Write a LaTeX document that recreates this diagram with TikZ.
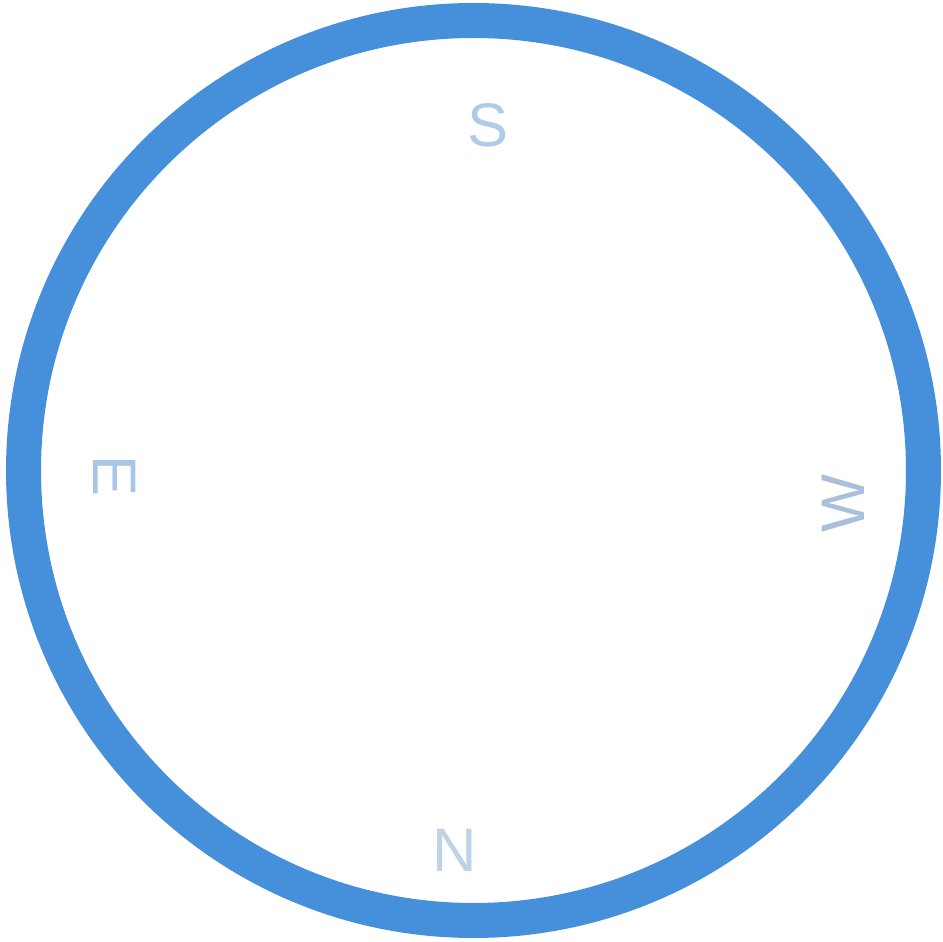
\documentclass[tikz,border=0pt]{standalone}
\usepackage{fontspec}
\setmainfont{Liberation Sans}
\usepackage{tikz}
\usetikzlibrary{positioning}
\definecolor{ring}{HTML}{4690DB}
\definecolor{dirS}{HTML}{B0CBE8}
\definecolor{dirE}{HTML}{A9C6E6}
\definecolor{dirW}{HTML}{A9C0DB}
\definecolor{dirN}{HTML}{C0D3E4}

\begin{document}
\begin{tikzpicture}[
  dial/.style={draw=ring, line width=0.35cm},
  heading/.style={font=\fontsize{17.5}{20}\selectfont, text=#1, inner sep=0pt},
]
  \useasboundingbox (0,0) rectangle (9.43,-9.42);
  % Compass ring
  \node[dial, circle, minimum size=9.0cm, inner sep=0pt] (dial) at (4.735,-4.705) {};

  % Directions
  \node[heading=dirS] (south) at (4.88,-1.25) {S};
  \node[heading=dirE, rotate=-90] (east) at (1.15,-4.76) {E};
  \node[heading=dirW, rotate=90] (west) at (8.43,-5.03) {W};
  \node[heading=dirN] (north) at (4.55,-8.50) {N};
\end{tikzpicture}
\end{document}
